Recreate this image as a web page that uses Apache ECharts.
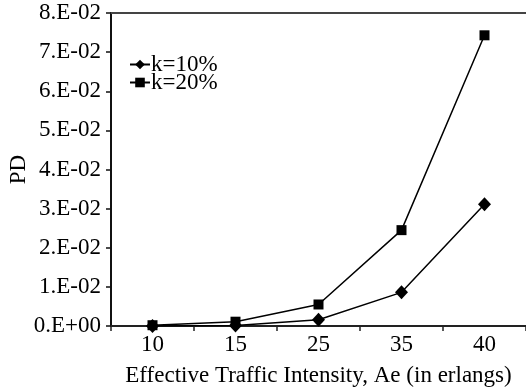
<!DOCTYPE html>
<html>
<head>
<meta charset="utf-8">
<script src="https://cdn.jsdelivr.net/npm/echarts@6/dist/echarts.min.js"></script>
<style>
html,body{margin:0;padding:0;background:#fff;}
#chart{width:526px;height:388px;}
</style>
</head>
<body>
<div id="chart"></div>
<script>
const categories = ['10', '15', '25', '35', '40'];
const seriesNames = ['k=10%', 'k=20%'];
const k10 = [0.0000, 0.0001, 0.0016, 0.0086, 0.0311];
const k20 = [0.0002, 0.0011, 0.0055, 0.0245, 0.0743];
const yTickLabels = ['0.E+00', '1.E-02', '2.E-02', '3.E-02', '4.E-02', '5.E-02', '6.E-02', '7.E-02', '8.E-02'];

const FONT = '"Liberation Serif", "Times New Roman", serif';
const chart = echarts.init(document.getElementById('chart'), null, {renderer: 'canvas'});
chart.setOption({
  animation: false,
  backgroundColor: '#fff',
  grid: {left: 111, right: 0, top: 13, bottom: 62, containLabel: false, outerBoundsMode: 'none'},
  legend: {
    left: 124, top: 48, orient: 'vertical',
    itemWidth: 20, itemHeight: 12, itemGap: -5,
    textStyle: {fontFamily: FONT, fontSize: 23, color: '#000', padding: [0, 0, 0, -4]},
    data: seriesNames
  },
  xAxis: [{
    type: 'category', data: categories, boundaryGap: true, position: 'bottom',
    axisLine: {lineStyle: {color: '#222', width: 2}},
    axisTick: {show: true, inside: false, length: 5, lineStyle: {color: '#222', width: 1.5}},
    axisLabel: {fontFamily: FONT, fontSize: 23, color: '#000', margin: 7},
    name: 'Effective Traffic Intensity, Ae (in erlangs)',
    nameLocation: 'middle', nameGap: 38, nameMoveOverlap: false,
    nameTextStyle: {fontFamily: FONT, fontSize: 23, color: '#000'}
  }, {
    type: 'category', data: categories, position: 'top',
    axisLine: {lineStyle: {color: '#444', width: 2}},
    axisTick: {show: false}, axisLabel: {show: false}
  }],
  yAxis: {
    type: 'value', min: 0, max: 0.08, interval: 0.01,
    axisLine: {show: true, lineStyle: {color: '#111', width: 2}},
    axisTick: {show: true, inside: false, length: 5, lineStyle: {color: '#111', width: 1.5}},
    splitLine: {show: false},
    axisLabel: {
      fontFamily: FONT, fontSize: 23, color: '#000', margin: 10,
      formatter: function (v) { return yTickLabels[Math.round(v / 0.01)] || ''; }
    },
    name: 'PD', nameLocation: 'middle', nameGap: 81, nameRotate: 90, nameMoveOverlap: false,
    nameTextStyle: {fontFamily: FONT, fontSize: 23, color: '#000'}
  },
  series: [{
    name: seriesNames[0], type: 'line', data: k10,
    symbol: 'diamond', symbolSize: [13, 14],
    lineStyle: {color: '#000', width: 1.5},
    itemStyle: {color: '#000'}
  }, {
    name: seriesNames[1], type: 'line', data: k20,
    symbol: 'rect', symbolSize: 10,
    lineStyle: {color: '#000', width: 1.5},
    itemStyle: {color: '#000'}
  }]
});
</script>
</body>
</html>
